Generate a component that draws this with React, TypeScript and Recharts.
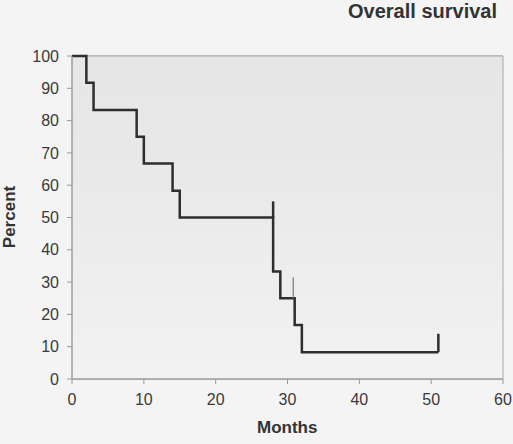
import React from 'react';
import {
    LineChart,
    Line,
    XAxis,
    YAxis,
    CartesianGrid,
    ReferenceArea
} from 'recharts';

// Kaplan-Meier steps: month where the survival changes, percent from there on
const months = [0, 2, 3, 9, 10, 14, 15, 28, 29, 31, 32, 51];
const percent = [100, 91.7, 83.3, 75, 66.7, 58.3, 50, 33.3, 25, 16.7, 8.3, 8.3];

// censor marks: month, bottom and top of the tick
const censorMonths = [28, 30.8, 51];
const censorLow = [50, 25, 8.3];
const censorHigh = [55, 31.5, 14];

const xTicks = [0, 10, 20, 30, 40, 50, 60];
const yTicks = [0, 10, 20, 30, 40, 50, 60, 70, 80, 90, 100];

const curve = months.map((m, i) => ({ x: m, y: percent[i] }));
const censors = censorMonths.map((m, i) => [
    { x: m, y: censorLow[i] },
    { x: m, y: censorHigh[i] }
]);

const FONT = 'Arial, "Liberation Sans", sans-serif';
const tickStyle = { fontSize: 16, fill: '#3a3a3a', fontFamily: FONT };

export default function App() {
    return (
        <div style={{ position: 'absolute', left: 0, top: 0, width: 513, height: 444, background: '#f4f4f4', fontFamily: FONT }}>
            <div style={{ position: 'absolute', right: 16, top: 0, fontSize: 20, fontWeight: 'bold', color: '#333', whiteSpace: 'nowrap' }}>
                Overall survival
            </div>
            <div style={{ position: 'absolute', left: 257, top: 418, fontSize: 17, fontWeight: 'bold', color: '#333' }}>
                Months
            </div>
            <div
                style={{
                    position: 'absolute',
                    left: 10,
                    top: 217,
                    fontSize: 17,
                    fontWeight: 'bold',
                    color: '#333',
                    transform: 'translate(-50%, -50%) rotate(-90deg)'
                }}
            >
                Percent
            </div>
            <LineChart
                width={513}
                height={444}
                margin={{ top: 56, right: 10, left: 0, bottom: 35 }}
                style={{ position: 'absolute', left: 0, top: 0 }}
            >
                <defs>
                    <linearGradient id="plotBg" x1="0" y1="0" x2="0" y2="1">
                        <stop offset="0%" stopColor="#e6e6e6" />
                        <stop offset="30%" stopColor="#e8e8e8" />
                        <stop offset="100%" stopColor="#f2f2f2" />
                    </linearGradient>
                </defs>
                <ReferenceArea x1={0} x2={60} y1={0} y2={100} fill="url(#plotBg)" fillOpacity={1} stroke="#a8a8a8" strokeWidth={1} />
                <CartesianGrid vertical={false} stroke="#a5a5a5" strokeWidth={1} />
                <XAxis
                    type="number"
                    dataKey="x"
                    domain={[0, 60]}
                    ticks={xTicks}
                    allowDataOverflow
                    height={30}
                    tick={tickStyle}
                    tickSize={5}
                    tickMargin={10}
                    stroke="#999"
                />
                <YAxis
                    type="number"
                    dataKey="y"
                    domain={[0, 100]}
                    ticks={yTicks}
                    width={72}
                    tick={tickStyle}
                    tickSize={5}
                    tickMargin={8}
                    stroke="#999"
                />
                <Line
                    data={curve}
                    dataKey="y"
                    type="stepAfter"
                    stroke="#2e2e2e"
                    strokeWidth={2.5}
                    dot={false}
                    isAnimationActive={false}
                />
                {censors.map((seg, i) => (
                    <Line
                        key={`censor-${i}`}
                        data={seg}
                        dataKey="y"
                        type="linear"
                        stroke={i === 1 ? '#777' : '#2e2e2e'}
                        strokeWidth={i === 1 ? 1.2 : 2.5}
                        dot={false}
                        isAnimationActive={false}
                    />
                ))}
            </LineChart>
        </div>
    );
}
